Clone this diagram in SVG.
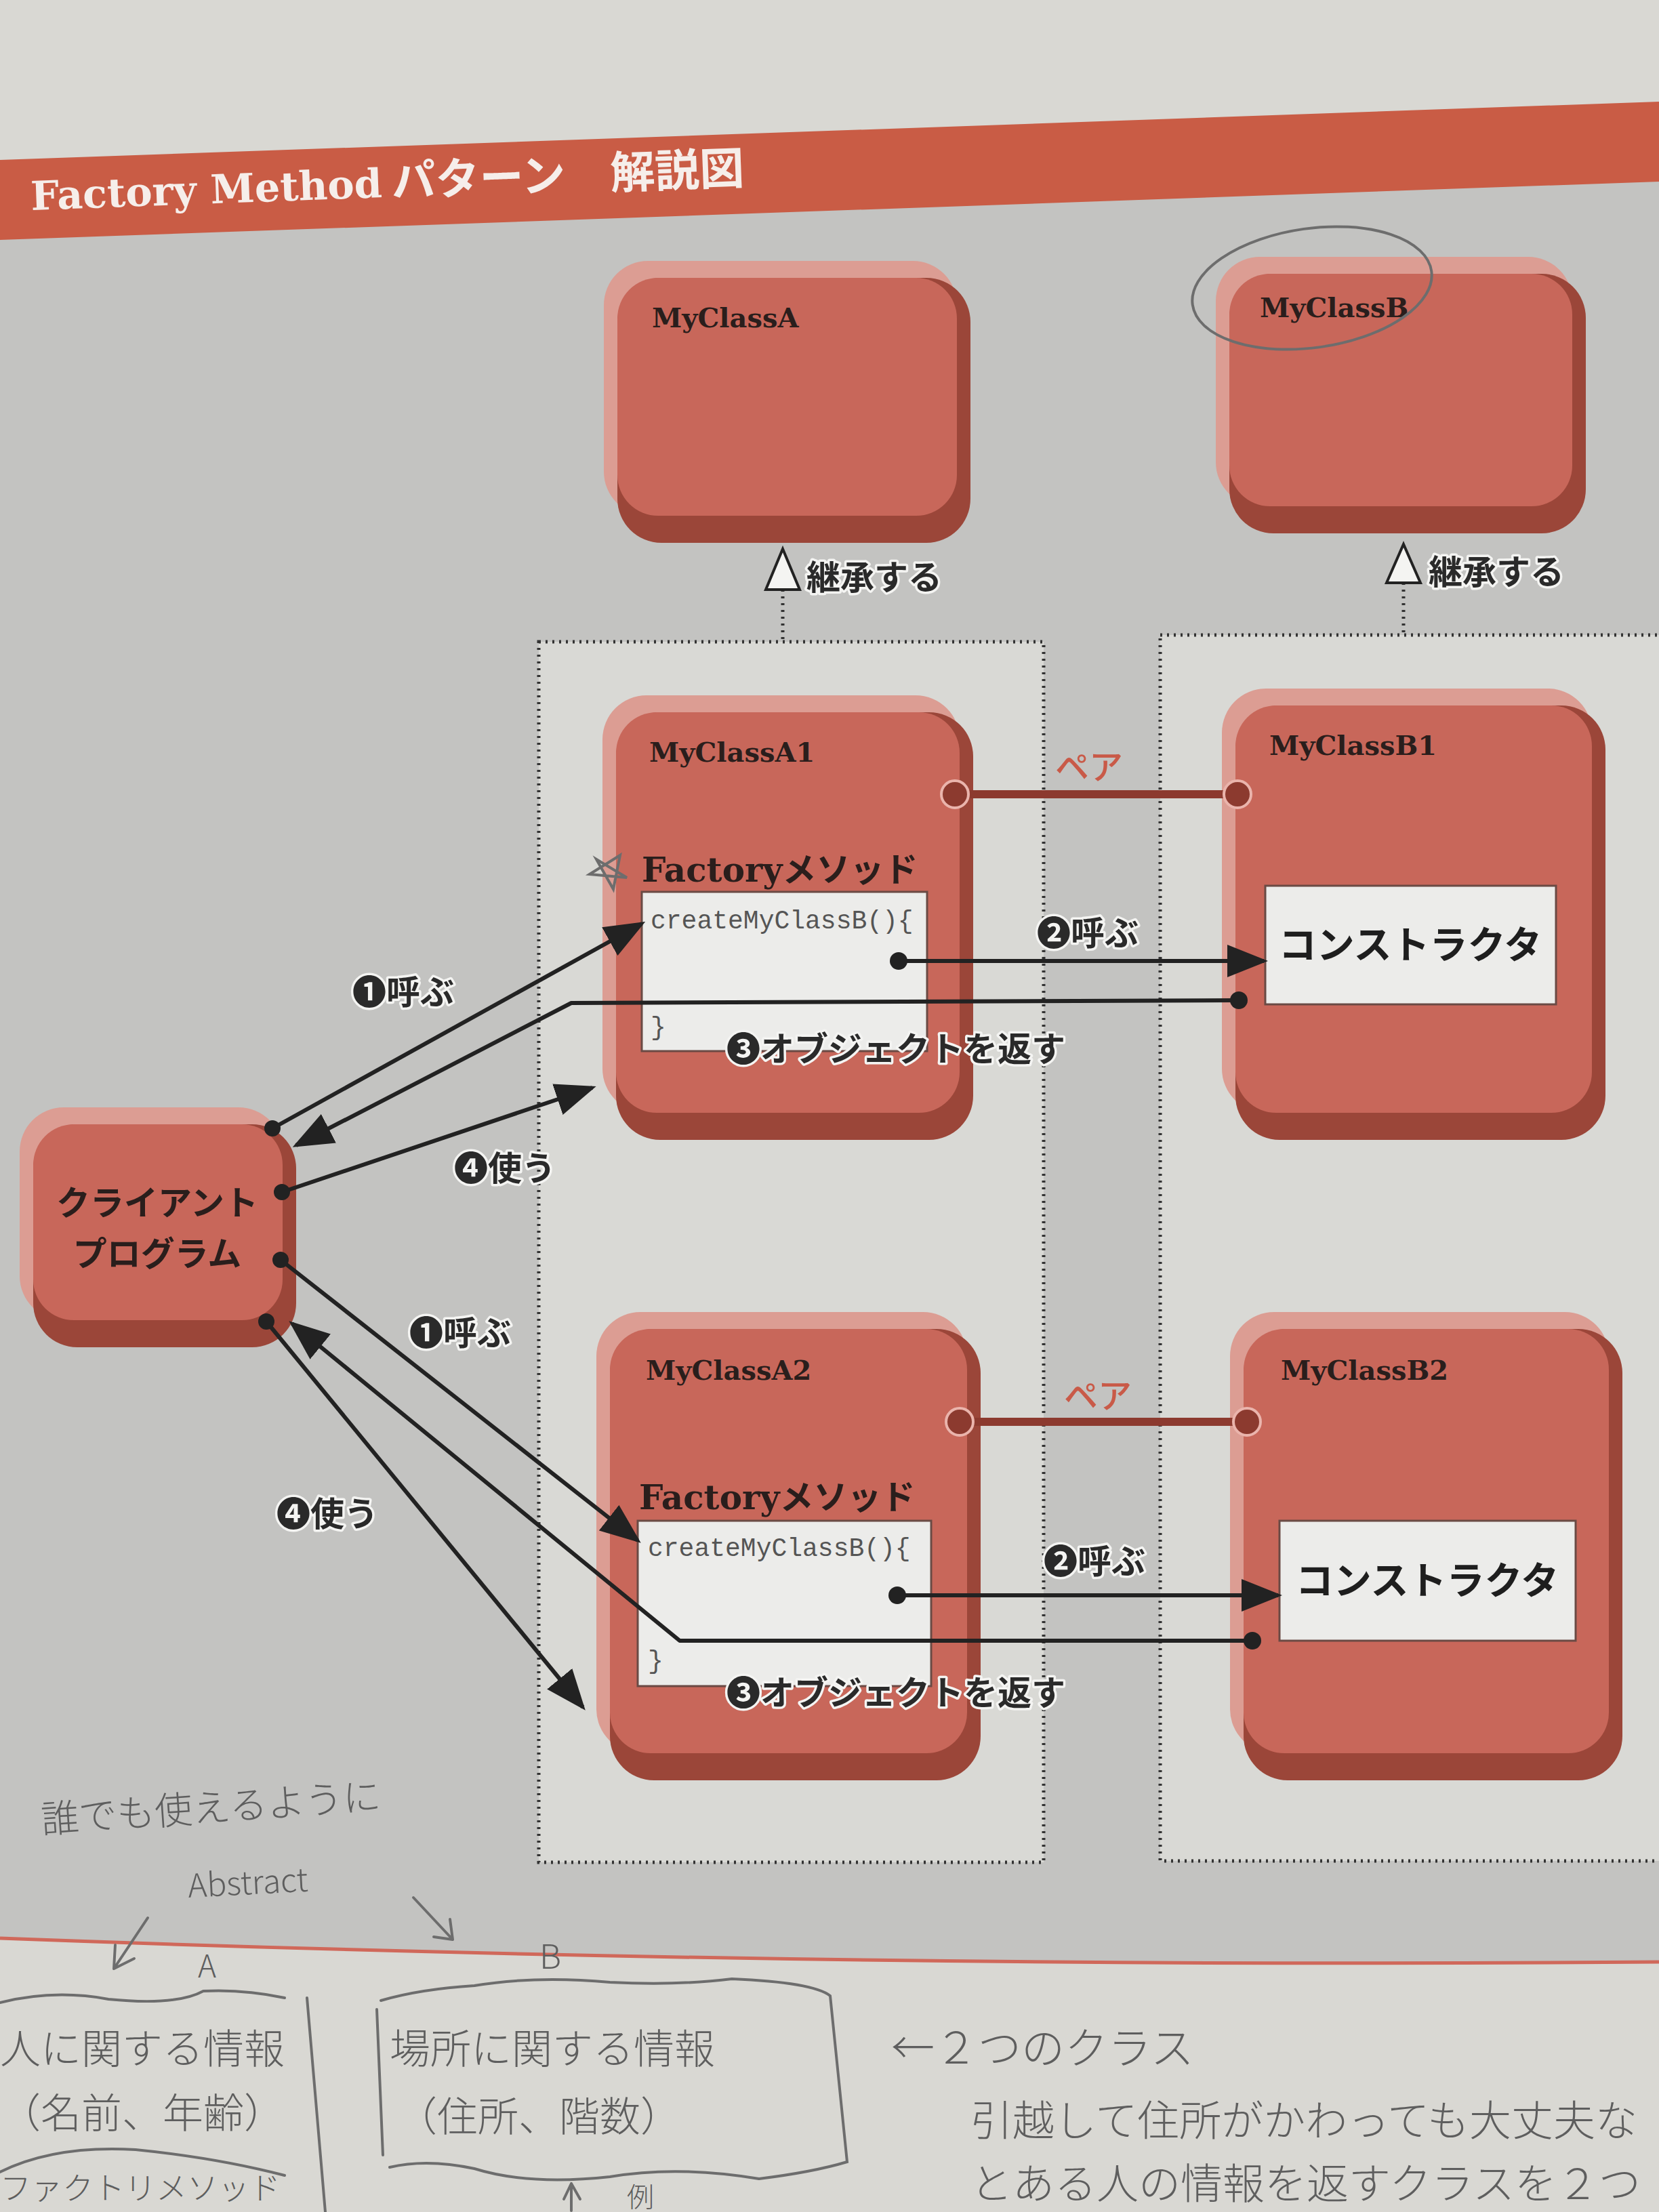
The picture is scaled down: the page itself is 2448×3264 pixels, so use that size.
<svg xmlns="http://www.w3.org/2000/svg" width="2448" height="3264" viewBox="0 0 2448 3264">
<defs>
<style>
.hl{fill:#dc9d93}
.sh{fill:#9b4639}
.mn{fill:#c8675a}
.ttl{font-family:"DejaVu Serif","Liberation Serif",serif;font-weight:bold;font-size:40px;fill:#2a1e1c}
.fm{font-family:"DejaVu Serif","Liberation Serif",serif;font-weight:bold;font-size:50px;fill:#2a1e1c}
.jp{font-family:"Noto Sans CJK JP",sans-serif;font-weight:bold}
.code{font-family:"Liberation Mono","DejaVu Sans Mono",monospace;font-size:38px;fill:#555}
.cbox{fill:#ececea;stroke:#6a4a44;stroke-width:3}
.lbl{font-family:"Noto Sans CJK JP",sans-serif;font-weight:bold;font-size:50px;fill:#2a2a2a;stroke:#f4f4f2;stroke-width:7px;paint-order:stroke;stroke-linejoin:round}
.pair{font-family:"Noto Sans CJK JP",sans-serif;font-weight:500;font-size:50px;fill:#c95a48}
.arr{fill:none;stroke:#222;stroke-width:6;stroke-linejoin:round}
.dot{fill:#222}
.cont{fill:#d9d9d5;stroke:#333;stroke-width:5;stroke-dasharray:3 7}
.pen{fill:none;stroke:#6d6d6d;stroke-width:4;stroke-linecap:round}
.hw{font-family:"Noto Sans CJK JP",sans-serif;font-weight:300;fill:#5e5e5e}
</style>
<marker id="ah" markerWidth="10" markerHeight="8" refX="9" refY="4" orient="auto" markerUnits="strokeWidth">
<path d="M0,0 L10,4 L0,8 z" fill="#222"/>
</marker>
</defs>

<!-- page background -->
<rect x="0" y="0" width="2448" height="3264" fill="#d9d8d3"/>
<path d="M0,340 L2448,255 L2448,2895 Q1200,2905 0,2860 Z" fill="#c3c3c1"/>
<path d="M0,2860 Q1200,2905 2448,2895" fill="none" stroke="#d0685a" stroke-width="5"/>

<!-- title band -->
<g id="title">
<path d="M0,236 L2448,150 L2448,268 L0,354 Z" fill="#c95c45"/>
<text x="46" y="310" transform="rotate(-2.1 46 310)" fill="#f6eeea"><tspan font-family="DejaVu Serif, Liberation Serif, serif" font-weight="bold" font-size="59">Factory Method</tspan><tspan font-family="Noto Sans CJK JP, sans-serif" font-weight="bold" font-size="65" dx="14">パターン</tspan><tspan font-family="Noto Sans CJK JP, sans-serif" font-weight="bold" font-size="66" dx="66">解説図</tspan></text>
</g>

<!-- containers -->
<g id="containerA">
<rect class="cont" x="795" y="947" width="745" height="1801"/>
</g>
<g id="containerB">
<rect class="cont" x="1712" y="937" width="760" height="1809"/>
</g>

<!-- nodes -->
<g id="MyClassA">
<rect class="hl" x="891" y="385" width="521" height="376" rx="65"/>
<rect class="sh" x="911" y="410" width="521" height="391" rx="65"/>
<rect class="mn" x="911" y="410" width="501" height="351" rx="60"/>
<text class="ttl" x="962" y="483">MyClassA</text>
</g>
<g id="MyClassB">
<rect class="hl" x="1794" y="379" width="526" height="368" rx="65"/>
<rect class="sh" x="1814" y="404" width="526" height="383" rx="65"/>
<rect class="mn" x="1814" y="404" width="506" height="343" rx="60"/>
<text class="ttl" x="1859" y="468">MyClassB</text>
</g>

<g id="MyClassA1">
<rect class="hl" x="889" y="1026" width="527" height="616" rx="65"/>
<rect class="sh" x="909" y="1051" width="527" height="631" rx="65"/>
<rect class="mn" x="909" y="1051" width="507" height="591" rx="60"/>
<text class="ttl" x="958" y="1124">MyClassA1</text>
<text x="947" y="1301"><tspan class="fm">Factory</tspan><tspan class="jp" font-size="50" fill="#2a1e1c">メソッド</tspan></text>
<rect class="cbox" x="947" y="1316" width="421" height="235"/>
<text class="code" x="960" y="1370">createMyClassB(){</text>
<text class="code" x="960" y="1527">}</text>
</g>
<g id="MyClassB1">
<rect class="hl" x="1803" y="1016" width="546" height="626" rx="65"/>
<rect class="sh" x="1823" y="1041" width="546" height="641" rx="65"/>
<rect class="mn" x="1823" y="1041" width="526" height="601" rx="60"/>
<text class="ttl" x="1873" y="1114">MyClassB1</text>
<rect class="cbox" x="1867" y="1307" width="429" height="175"/>
<text class="jp" x="2081" y="1414" font-size="56" text-anchor="middle" fill="#1e1e1e">コンストラクタ</text>
</g>

<g id="MyClassA2">
<rect class="hl" x="880" y="1936" width="547" height="651" rx="65"/>
<rect class="sh" x="900" y="1961" width="547" height="666" rx="65"/>
<rect class="mn" x="900" y="1961" width="527" height="626" rx="60"/>
<text class="ttl" x="953" y="2036">MyClassA2</text>
<text x="943" y="2227"><tspan class="fm">Factory</tspan><tspan class="jp" font-size="50" fill="#2a1e1c">メソッド</tspan></text>
<rect class="cbox" x="941" y="2244" width="433" height="244"/>
<text class="code" x="956" y="2296">createMyClassB(){</text>
<text class="code" x="956" y="2462">}</text>
</g>
<g id="MyClassB2">
<rect class="hl" x="1815" y="1936" width="559" height="651" rx="65"/>
<rect class="sh" x="1835" y="1961" width="559" height="666" rx="65"/>
<rect class="mn" x="1835" y="1961" width="539" height="626" rx="60"/>
<text class="ttl" x="1890" y="2036">MyClassB2</text>
<rect class="cbox" x="1888" y="2244" width="437" height="177"/>
<text class="jp" x="2106" y="2352" font-size="56" text-anchor="middle" fill="#1e1e1e">コンストラクタ</text>
</g>

<g id="Client">
<rect class="hl" x="29" y="1634" width="388" height="314" rx="65"/>
<rect class="sh" x="49" y="1659" width="388" height="329" rx="65"/>
<rect class="mn" x="49" y="1659" width="368" height="289" rx="60"/>
<text class="jp" x="232" y="1793" font-size="50" text-anchor="middle" fill="#2a1e1c">クライアント</text>
<text class="jp" x="232" y="1868" font-size="50" text-anchor="middle" fill="#2a1e1c">プログラム</text>
</g>

<!-- connectors -->
<g id="connectors">
<!-- inheritance -->
<line x1="1155" y1="870" x2="1155" y2="947" stroke="#333" stroke-width="5" stroke-dasharray="3 7"/>
<path d="M1155,810 L1180,870 L1130,870 Z" fill="#f4f4f2" stroke="#222" stroke-width="4"/>
<line x1="2071" y1="860" x2="2071" y2="937" stroke="#333" stroke-width="5" stroke-dasharray="3 7"/>
<path d="M2071,803 L2096,860 L2046,860 Z" fill="#f4f4f2" stroke="#222" stroke-width="4"/>

<!-- pair lines -->
<line x1="1409" y1="1172" x2="1826" y2="1172" stroke="#8c3a2f" stroke-width="12"/>
<circle cx="1409" cy="1172" r="20" fill="#8c3a2f" stroke="#eab4ac" stroke-width="4"/>
<circle cx="1826" cy="1172" r="20" fill="#8c3a2f" stroke="#eab4ac" stroke-width="4"/>
<line x1="1416" y1="2098" x2="1840" y2="2098" stroke="#8c3a2f" stroke-width="12"/>
<circle cx="1416" cy="2098" r="20" fill="#8c3a2f" stroke="#eab4ac" stroke-width="4"/>
<circle cx="1840" cy="2098" r="20" fill="#8c3a2f" stroke="#eab4ac" stroke-width="4"/>

<!-- group 1 -->
<path class="arr" d="M402,1665 L947,1363" marker-end="url(#ah)"/>
<path class="arr" d="M1326,1418 L1865,1418" marker-end="url(#ah)"/>
<path class="arr" d="M1828,1476 L843,1480 L437,1690" marker-end="url(#ah)"/>
<path class="arr" d="M416,1759 L874,1605" marker-end="url(#ah)"/>
<circle class="dot" cx="402" cy="1665" r="12"/>
<circle class="dot" cx="1326" cy="1418" r="13"/>
<circle class="dot" cx="1828" cy="1476" r="13"/>
<circle class="dot" cx="416" cy="1759" r="12"/>

<!-- group 2 -->
<path class="arr" d="M414,1859 L941,2273" marker-end="url(#ah)"/>
<path class="arr" d="M1324,2354 L1886,2354" marker-end="url(#ah)"/>
<path class="arr" d="M1848,2421 L1003,2421 L431,1953" marker-end="url(#ah)"/>
<path class="arr" d="M393,1950 L860,2519" marker-end="url(#ah)"/>
<circle class="dot" cx="414" cy="1859" r="12"/>
<circle class="dot" cx="1324" cy="2354" r="13"/>
<circle class="dot" cx="1848" cy="2421" r="13"/>
<circle class="dot" cx="393" cy="1950" r="12"/>
</g>

<!-- labels -->
<g id="labels">
<text class="lbl" x="1190" y="870" font-size="52">継承する</text>
<text class="lbl" x="2108" y="862" font-size="52">継承する</text>
<text class="pair" x="1557" y="1150">ペア</text>
<text class="pair" x="1570" y="2078">ペア</text>
<text class="lbl" x="520" y="1482">❶呼ぶ</text>
<text class="lbl" x="1530" y="1395">❷呼ぶ</text>
<text class="lbl" x="1072" y="1566">❸オブジェクトを返す</text>
<text class="lbl" x="670" y="1742">❹使う</text>
<text class="lbl" x="604" y="1985">❶呼ぶ</text>
<text class="lbl" x="1540" y="2322">❷呼ぶ</text>
<text class="lbl" x="1072" y="2516">❸オブジェクトを返す</text>
<text class="lbl" x="408" y="2252">❹使う</text>
</g>

<!-- pencil marks and handwritten notes -->
<g id="notes">
<ellipse class="pen" cx="1936" cy="425" rx="178" ry="88" transform="rotate(-8 1936 425)"/>
<path class="pen" d="M870,1290 L915,1262 L905,1312 L880,1268 L925,1295 Z" stroke-width="3"/>
<text class="hw" x="62" y="2705" font-size="56" transform="rotate(-4 62 2705)">誰でも使えるように</text>
<text class="hw" x="278" y="2800" font-size="48" transform="rotate(-3 278 2800)">Abstract</text>
<path class="pen" d="M218,2830 L168,2905 M168,2905 L170,2870 M168,2905 L198,2890"/>
<path class="pen" d="M610,2800 L668,2862 M668,2862 L640,2858 M668,2862 L664,2832"/>
<text class="hw" x="292" y="2918" font-size="46">A</text>
<text class="hw" x="796" y="2905" font-size="50">B</text>
<path class="pen" d="M0,2955 Q80,2935 160,2950 Q260,2960 300,2938 Q360,2935 420,2948"/>
<line class="pen" x1="453" y1="2948" x2="480" y2="3264"/>
<text class="hw" x="0" y="3045" font-size="60">人に関する情報</text>
<text class="hw" x="0" y="3140" font-size="60">（名前、年齢）</text>
<path class="pen" d="M0,3205 Q80,3165 200,3172 Q320,3184 420,3210"/>
<text class="hw" x="0" y="3245" font-size="46">ファクトリメソッド</text>
<path class="pen" d="M562,2952 Q620,2935 700,2930 Q790,2915 900,2925 Q1000,2930 1080,2920 Q1200,2925 1225,2945 L1250,3190 Q1200,3205 1120,3215 Q1000,3195 900,3212 Q780,3225 700,3200 Q630,3185 575,3198"/>
<line class="pen" x1="556" y1="2965" x2="565" y2="3180"/>
<text class="hw" x="575" y="3045" font-size="60">場所に関する情報</text>
<text class="hw" x="585" y="3145" font-size="60">（住所、階数）</text>
<path class="pen" d="M843,3262 L843,3222 M843,3222 L832,3245 M843,3222 L856,3245"/>
<text class="hw" x="925" y="3256" font-size="40">例</text>
<text class="hw" x="1315" y="3045" font-size="64">←２つのクラス</text>
<text class="hw" x="1432" y="3152" font-size="62">引越して住所がかわっても大丈夫な</text>
<text class="hw" x="1432" y="3245" font-size="62">とある人の情報を返すクラスを２つ</text>
</g>
</svg>
